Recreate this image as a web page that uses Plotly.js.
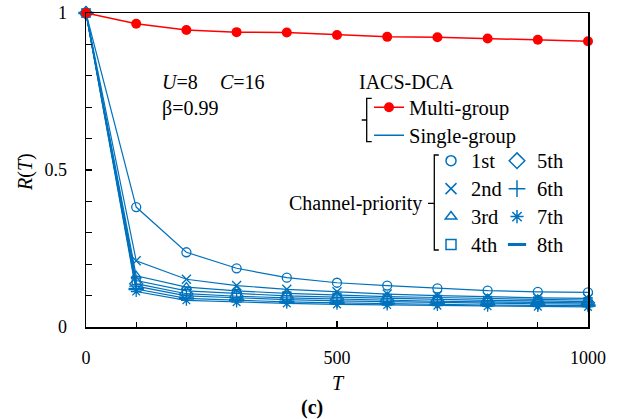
<!DOCTYPE html>
<html><head><meta charset="utf-8">
<script src="https://cdn.plot.ly/plotly-3.0.1.min.js"></script>
<style>html,body{margin:0;padding:0;background:#fff}</style>
</head><body><div id="chart" style="width:624px;height:419px"></div>
<script>
// ---- data ----
const T = [0, 100, 200, 300, 400, 500, 600, 700, 800, 900, 1000];
const multiGroup = [1, 0.966, 0.946, 0.939, 0.938, 0.930, 0.924, 0.923, 0.919, 0.915, 0.910];
const single1st = [1, 0.382, 0.238, 0.187, 0.157, 0.141, 0.132, 0.123, 0.116, 0.112, 0.110];
const single2nd = [1, 0.211, 0.152, 0.132, 0.120, 0.112, 0.105, 0.100, 0.096, 0.093, 0.091];
const single3rd = [1, 0.163, 0.127, 0.115, 0.107, 0.101, 0.097, 0.094, 0.090, 0.088, 0.086];
const single4th = [1, 0.148, 0.115, 0.106, 0.099, 0.095, 0.091, 0.088, 0.085, 0.083, 0.081];
const single5th = [1, 0.138, 0.106, 0.098, 0.093, 0.089, 0.085, 0.082, 0.080, 0.078, 0.077];
const single6th = [1, 0.130, 0.099, 0.092, 0.087, 0.083, 0.080, 0.078, 0.076, 0.074, 0.073];
const single7th = [1, 0.113, 0.085, 0.079, 0.075, 0.072, 0.070, 0.068, 0.066, 0.065, 0.064];
const single8th = [1, 0.121, 0.091, 0.085, 0.080, 0.077, 0.074, 0.072, 0.070, 0.069, 0.068];
const priorityNames = ['1st', '2nd', '3rd', '4th', '5th', '6th', '7th', '8th'];
const xTickVals = [0, 500, 1000];
const yTickVals = [0, 0.5, 1];
const yTickText = ['0', '0.5', '1'];

// ---- styles / layout helpers ----
const FONT = 'Liberation Serif';
const BLUE = '#0072BD';
const RED = '#FF0000';
const W = 624, H = 419, M = {l: 86, r: 36, t: 13, b: 92};
const px2x = px => (px - M.l) / (W - M.l - M.r);
const px2y = py => (H - M.b - py) / (H - M.t - M.b);
const blueSeries = [single1st, single2nd, single3rd, single4th, single5th, single6th, single7th, single8th];
const symbols = ['circle-open', 'x-thin-open', 'triangle-up-open', 'square-open',
                 'diamond-open', 'cross-thin-open', 'asterisk-open', 'line-ew-open'];
const symSizes = [9, 9, 9, 8, 10, 10, 9, 11];
const legendSizes = [10, 11, 10, 10, 12, 12, 11, 13];
const lbl = s => '<span style="font-size:20.5px">' + s + '</span>';

const traces = [];
blueSeries.forEach((ys, i) => {
  traces.push({
    x: T, y: ys, type: 'scatter', mode: 'lines+markers', showlegend: false,
    cliponaxis: false,
    line: {color: BLUE, width: 1.2},
    marker: {symbol: symbols[i], size: symSizes[i], color: BLUE,
             line: {color: BLUE, width: i === 7 ? 2.5 : 1.3}}
  });
});
traces.push({
  x: T, y: multiGroup, type: 'scatter', mode: 'lines+markers', name: lbl('Multi-group'),
  legend: 'legend', cliponaxis: false,
  line: {color: RED, width: 1.5},
  marker: {symbol: 'circle', size: 10, color: RED}
});
traces.push({
  x: [null], y: [null], type: 'scatter', mode: 'lines', name: lbl('Single-group'),
  legend: 'legend', line: {color: BLUE, width: 1.5}
});
priorityNames.forEach((n, i) => {
  traces.push({
    x: [null], y: [null], type: 'scatter', mode: 'markers', name: lbl(n),
    legend: i < 4 ? 'legend2' : 'legend3',
    marker: {symbol: symbols[i], size: legendSizes[i], color: BLUE,
             line: {color: BLUE, width: i === 7 ? 3 : 1.5}}
  });
});

const legendBase = {
  xanchor: 'left', yanchor: 'top', bgcolor: 'rgba(0,0,0,0)', borderwidth: 0,
  font: {family: FONT, size: 19.2, color: '#000'}, traceorder: 'normal', itemwidth: 30
};

const annFont = {family: FONT, size: 20, color: '#000'};
const ann = (text, x, y, xanchor, extra) => Object.assign({
  text: text, xref: 'paper', yref: 'paper', x: px2x(x), y: px2y(y),
  xanchor: xanchor, yanchor: 'middle', showarrow: false, font: annFont
}, extra || {});

const bracket = (xv, y0, y1, ym, hook, tick) => ({
  type: 'path', xref: 'paper', yref: 'paper',
  path: 'M' + px2x(xv + hook) + ',' + px2y(y0) + ' L' + px2x(xv) + ',' + px2y(y0) +
        ' L' + px2x(xv) + ',' + px2y(y1) + ' L' + px2x(xv + hook) + ',' + px2y(y1) +
        ' M' + px2x(xv) + ',' + px2y(ym) + ' L' + px2x(xv - tick) + ',' + px2y(ym),
  line: {color: '#000', width: 1.3}
});

const layout = {
  width: W, height: H, margin: M,
  paper_bgcolor: '#fff', plot_bgcolor: '#fff',
  font: {family: FONT, size: 18, color: '#000'},
  xaxis: {
    range: [0, 1000], tickvals: xTickVals, ticks: 'inside', ticklen: 6, tickwidth: 1.3,
    tickcolor: '#000', showline: true, linecolor: '#000', linewidth: 1.5, mirror: true,
    showgrid: false, zeroline: false, ticklabelstandoff: 14,
    tickfont: {family: FONT, size: 18, color: '#000'},
    minor: {dtick: 100, ticks: 'inside', ticklen: 5, tickwidth: 1.3, tickcolor: '#000', showgrid: false}
  },
  yaxis: {
    range: [0, 1], tickvals: yTickVals, ticktext: yTickText, ticks: 'inside', ticklen: 6, tickwidth: 1.3,
    tickcolor: '#000', showline: true, linecolor: '#000', linewidth: 1.5, mirror: true,
    showgrid: false, zeroline: false, ticklabelstandoff: 14,
    tickfont: {family: FONT, size: 18, color: '#000'},
    minor: {dtick: 0.1, ticks: 'inside', ticklen: 6, tickwidth: 1.3, tickcolor: '#000', showgrid: false}
  },
  legend: Object.assign({}, legendBase, {x: px2x(369), y: px2y(88.3)}),
  legend2: Object.assign({}, legendBase, {x: px2x(431), y: px2y(141.7)}),
  legend3: Object.assign({}, legendBase, {x: px2x(497), y: px2y(141.7)}),
  annotations: [
    ann('<i>U</i>=8', 160, 82, 'left'),
    ann('<i>C</i>=16', 218, 82, 'left'),
    ann('β=0.99', 160, 108, 'left'),
    ann('IACS-DCA', 406.5, 81.7, 'center'),
    ann('Channel-priority', 423.5, 203, 'right'),
    ann('<i>T</i>', 338, 383, 'center'),
    ann('<i>R</i>(<i>T</i>)', 25, 172, 'center', {textangle: -90}),
    ann('<b>(c)</b>', 312, 407, 'center')
  ],
  shapes: [
    bracket(366.7, 98.3, 141.7, 120, 5, 5),
    bracket(434.3, 155, 250, 203.3, 4.5, 6.3)
  ]
};

Plotly.newPlot('chart', traces, layout, {staticPlot: true, displayModeBar: false});
</script>
</body></html>
